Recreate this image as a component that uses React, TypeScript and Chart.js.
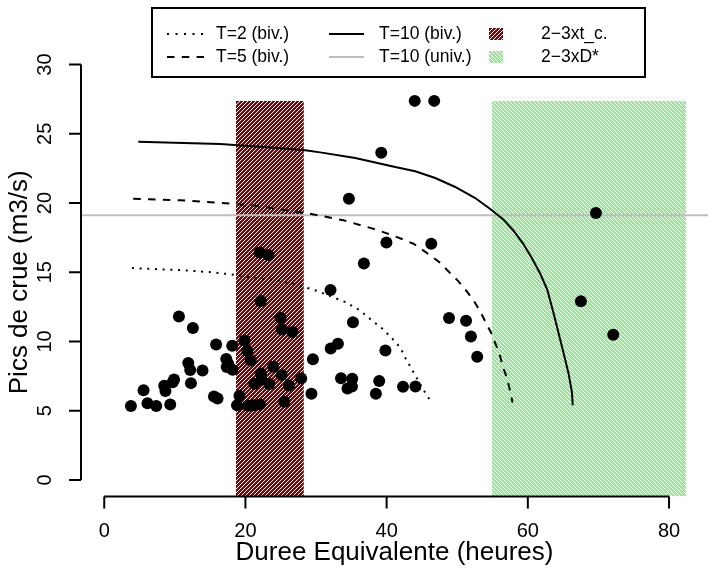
import React, { useEffect, useRef } from "react";
import { Chart, registerables } from "chart.js";

Chart.register(...registerables);

// ---- data ----
const durees = [3.78, 5.57, 6.13, 7.37, 8.5, 8.67, 9.35, 9.89, 9.7, 10.58, 12.56, 11.9, 12.18, 12.28, 13.92, 15.54, 16.05, 15.85, 18.13, 17.28, 17.56, 17.35, 18.17, 19.15, 18.81, 19.87, 20.28, 20.75, 22.21, 22.27, 21.25, 20.35, 21.1, 22.05, 22.03, 23.27, 22.17, 24.97, 25.17, 26.67, 23.94, 23.37, 25.14, 26.18, 27.9, 25.5, 29.56, 29.35, 32.05, 32.08, 33.1, 33.54, 35.13, 34.46, 35.09, 35.23, 36.78, 39.97, 39.83, 38.95, 38.48, 42.32, 44.08, 39.24, 34.66, 43.98, 46.74, 46.32, 48.84, 51.25, 51.94, 52.83, 69.65, 67.52, 72.1];
const pics = [5.33, 6.48, 5.53, 5.34, 6.8, 6.42, 5.44, 7.26, 7.05, 11.8, 10.97, 8.44, 7.94, 6.99, 7.9, 6.02, 5.88, 9.78, 9.69, 8.73, 8.39, 8.15, 7.95, 6.07, 5.4, 10.07, 9.31, 8.62, 7.69, 7.26, 6.94, 5.35, 5.4, 5.44, 16.43, 16.24, 12.93, 11.69, 10.87, 10.68, 8.18, 6.93, 7.57, 6.81, 7.32, 5.64, 8.71, 6.22, 13.72, 9.49, 9.83, 7.34, 7.3, 6.61, 6.74, 11.39, 15.64, 17.15, 9.35, 7.14, 6.22, 6.72, 6.74, 23.64, 20.31, 27.38, 27.38, 17.06, 11.69, 11.49, 10.36, 8.89, 19.28, 12.9, 10.48];

const t2X = [3.92, 6.19, 8.4, 10.52, 12.75, 14.91, 17.14, 19.41, 21.57, 23.75, 25.88, 27.95, 30.07, 32.15, 34.14, 36.12, 37.92, 39.48, 40.79, 41.97, 42.73, 43.67, 44.62, 45.57, 46.18];
const t2Y = [15.3, 15.25, 15.2, 15.16, 15.09, 15.01, 14.89, 14.75, 14.55, 14.46, 14.26, 14.0, 13.66, 13.25, 12.85, 12.27, 11.52, 10.89, 10.21, 9.54, 8.73, 7.9, 7.03, 6.2, 5.73];

const t5X = [4.11, 10.76, 16.43, 21.39, 25.4, 29.65, 33.9, 37.92, 39.94, 42.17, 43.81, 45.71, 47.35, 48.77, 50.18, 51.37, 52.41, 53.26, 53.97, 54.82, 55.38, 55.95, 56.47, 57.04, 57.51, 57.83];
const t5Y = [20.31, 20.2, 20.02, 19.81, 19.52, 19.18, 18.75, 18.17, 17.83, 17.4, 17.06, 16.39, 15.78, 15.06, 14.34, 13.61, 12.89, 12.17, 11.44, 10.61, 9.88, 9.16, 8.19, 7.35, 6.38, 5.59];

const t10X = [4.82, 16.43, 23.51, 28.47, 30.59, 35.55, 41.22, 44.05, 46.88, 49.72, 52.55, 54.82, 56.56, 57.97, 59.28, 60.55, 61.76, 62.75, 63.64, 64.35, 65.06, 65.76, 66.25, 66.36];
const t10Y = [24.43, 24.27, 24.02, 23.81, 23.66, 23.26, 22.61, 22.29, 21.81, 21.16, 20.36, 19.52, 18.8, 18.0, 17.11, 16.05, 14.89, 13.74, 12.05, 10.61, 9.16, 7.71, 6.33, 5.39];

const t10Univ = 19.12;

const redRange = [18.66, 28.28];
const greenRange = [54.9, 82.4];

const xTicks = [0, 20, 40, 60, 80];
const yTicks = [0, 5, 10, 15, 20, 25, 30];
const xLimits = [-3.29, 85.52];
const yLimits = [-1.2, 31.2];

const xTitle = "Duree Equivalente (heures)";
const yTitle = "Pics de crue (m3/s)";
const legendLabels = ["T=2 (biv.)", "T=5 (biv.)", "T=10 (biv.)", "T=10 (univ.)", "2\u22123xt_c.", "2\u22123xD*"];

const FONT = '"Liberation Sans", Arial, Helvetica, sans-serif';
const RED = [139, 0, 0];
const GREEN = [144, 238, 144];

function makeHatch(color: number[], dir: number): CanvasPattern | string {
  const c = document.createElement("canvas");
  c.width = 4;
  c.height = 4;
  const g = c.getContext("2d");
  if (!g) return `rgb(${color.join(",")})`;
  const img = g.createImageData(4, 4);
  for (let y = 0; y < 4; y++) {
    for (let x = 0; x < 4; x++) {
      const k = dir > 0 ? (x + y) % 4 : (x - y + 8) % 4;
      const i = (y * 4 + x) * 4;
      const white = k === 0;
      img.data[i] = white ? 255 : color[0];
      img.data[i + 1] = white ? 255 : color[1];
      img.data[i + 2] = white ? 255 : color[2];
      img.data[i + 3] = 255;
    }
  }
  g.putImageData(img, 0, 0);
  const p = g.createPattern(c, "repeat");
  return p || `rgb(${color.join(",")})`;
}

const toPts = (xs: number[], ys: number[]) => xs.map((x, i) => ({ x, y: ys[i] }));

export default function App() {
  const ref = useRef<HTMLCanvasElement | null>(null);

  useEffect(() => {
    const canvas = ref.current;
    if (!canvas) return;
    const redPat = makeHatch(RED, 1);
    const greenPat = makeHatch(GREEN, -1);
    const rectTop = Math.max(...pics);

    const axesPlugin = {
      id: "rAxes",
      afterDraw(chart: any) {
        const ctx = chart.ctx as CanvasRenderingContext2D;
        const xs = chart.scales.x;
        const ys = chart.scales.y;
        const area = chart.chartArea;
        ctx.save();
        ctx.strokeStyle = "#000";
        ctx.fillStyle = "#000";
        ctx.lineWidth = 2;
        // x axis
        const yb = area.bottom;
        ctx.beginPath();
        ctx.moveTo(xs.getPixelForValue(xTicks[0]), yb);
        ctx.lineTo(xs.getPixelForValue(xTicks[xTicks.length - 1]), yb);
        for (const t of xTicks) {
          const px = xs.getPixelForValue(t);
          ctx.moveTo(px, yb);
          ctx.lineTo(px, yb + 12);
        }
        ctx.stroke();
        ctx.font = `20px ${FONT}`;
        ctx.textAlign = "center";
        ctx.textBaseline = "middle";
        for (const t of xTicks) {
          ctx.fillText(String(t), xs.getPixelForValue(t), 531);
        }
        // y axis
        const xl = area.left;
        ctx.beginPath();
        ctx.moveTo(xl, ys.getPixelForValue(yTicks[0]));
        ctx.lineTo(xl, ys.getPixelForValue(yTicks[yTicks.length - 1]));
        for (const t of yTicks) {
          const py = ys.getPixelForValue(t);
          ctx.moveTo(xl, py);
          ctx.lineTo(xl - 12, py);
        }
        ctx.stroke();
        for (const t of yTicks) {
          ctx.save();
          ctx.translate(45, ys.getPixelForValue(t));
          ctx.rotate(-Math.PI / 2);
          ctx.fillText(String(t), 0, 0);
          ctx.restore();
        }
        // titles
        ctx.font = `26px ${FONT}`;
        ctx.fillText(xTitle, (area.left + area.right) / 2, 553);
        ctx.save();
        ctx.translate(20, (area.top + area.bottom) / 2 + 10);
        ctx.rotate(-Math.PI / 2);
        ctx.fillText(yTitle, 0, 0);
        ctx.restore();

        // legend
        ctx.fillStyle = "#fff";
        ctx.fillRect(152, 8, 493, 69);
        ctx.lineWidth = 2;
        ctx.strokeStyle = "#000";
        ctx.strokeRect(152, 8, 493, 69);
        const r1 = 34, r2 = 57;
        ctx.lineCap = "butt";
        // dotted
        ctx.setLineDash([2, 6.5]);
        ctx.beginPath();
        ctx.moveTo(167, r1);
        ctx.lineTo(204, r1);
        ctx.stroke();
        // dashed
        ctx.setLineDash([7.5, 7.3]);
        ctx.beginPath();
        ctx.moveTo(167, r2);
        ctx.lineTo(204, r2);
        ctx.stroke();
        ctx.setLineDash([]);
        ctx.beginPath();
        ctx.moveTo(329, r1);
        ctx.lineTo(364, r1);
        ctx.stroke();
        ctx.strokeStyle = "#BEBEBE";
        ctx.beginPath();
        ctx.moveTo(329, r2);
        ctx.lineTo(364, r2);
        ctx.stroke();
        ctx.fillStyle = redPat as any;
        ctx.fillRect(489, r1 - 6, 14, 12);
        ctx.fillStyle = greenPat as any;
        ctx.fillRect(489, r2 - 6, 14, 12);
        ctx.fillStyle = "#000";
        ctx.font = `17.5px ${FONT}`;
        ctx.textAlign = "left";
        ctx.fillText(legendLabels[0], 216, r1);
        ctx.fillText(legendLabels[1], 216, r2);
        ctx.fillText(legendLabels[2], 379, r1);
        ctx.fillText(legendLabels[3], 379, r2);
        ctx.fillText(legendLabels[4], 541, r1);
        ctx.fillText(legendLabels[5], 541, r2);
        ctx.restore();
      },
    };

    const chart = new Chart(canvas, {
      type: "scatter",
      data: {
        datasets: [
          {
            label: "pics",
            data: toPts(durees, pics),
            pointRadius: 6,
            pointBackgroundColor: "#000",
            pointBorderWidth: 0,
            showLine: false,
            order: 0,
          },
          {
            label: "T=2",
            data: toPts(t2X, t2Y),
            showLine: true,
            borderColor: "#000",
            borderWidth: 2,
            borderDash: [2, 5.7],
            pointRadius: 0,
            tension: 0,
            order: 1,
          },
          {
            label: "T=5",
            data: toPts(t5X, t5Y),
            showLine: true,
            borderColor: "#000",
            borderWidth: 2,
            borderDash: [7.5, 7.3],
            pointRadius: 0,
            tension: 0,
            order: 1,
          },
          {
            label: "T=10",
            data: toPts(t10X, t10Y),
            showLine: true,
            borderColor: "#000",
            borderWidth: 2,
            pointRadius: 0,
            tension: 0,
            order: 1,
          },
          {
            label: "T=10 univ",
            data: [
              { x: xLimits[0], y: t10Univ },
              { x: xLimits[1], y: t10Univ },
            ],
            showLine: true,
            borderColor: "#BEBEBE",
            borderWidth: 2,
            pointRadius: 0,
            order: 2,
          },
          {
            label: "red",
            data: [
              { x: redRange[0], y: rectTop },
              { x: redRange[1], y: rectTop },
            ],
            showLine: true,
            borderWidth: 0,
            borderColor: "rgba(0,0,0,0)",
            backgroundColor: redPat as any,
            fill: "start",
            pointRadius: 0,
            order: 5,
          },
          {
            label: "green",
            data: [
              { x: greenRange[0], y: rectTop },
              { x: greenRange[1], y: rectTop },
            ],
            showLine: true,
            borderWidth: 0,
            borderColor: "rgba(0,0,0,0)",
            backgroundColor: greenPat as any,
            fill: "start",
            pointRadius: 0,
            order: 5,
          },
        ],
      },
      options: {
        responsive: false,
        animation: false,
        devicePixelRatio: 1,
        layout: { autoPadding: false, padding: { left: 81, top: 48, right: 0, bottom: 74.5 } },
        plugins: { legend: { display: false }, tooltip: { enabled: false } },
        scales: {
          x: { type: "linear", min: xLimits[0], max: xLimits[1], display: false },
          y: { type: "linear", min: yLimits[0], max: yLimits[1], display: false },
        },
      },
      plugins: [axesPlugin],
    });
    return () => chart.destroy();
  }, []);

  return (
    <div style={{ position: "absolute", left: 0, top: 0, width: 708, height: 571, background: "#fff" }}>
      <canvas ref={ref} width={708} height={571} style={{ width: 708, height: 571, display: "block" }} />
    </div>
  );
}
